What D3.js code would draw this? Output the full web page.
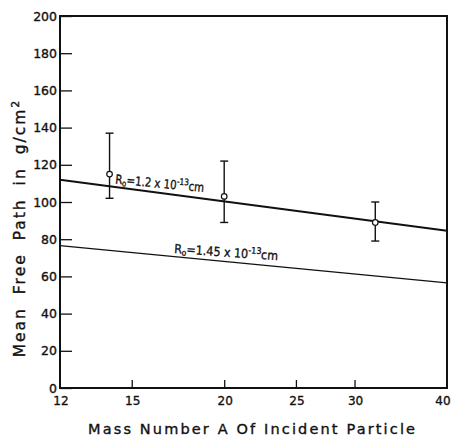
<!DOCTYPE html>
<html>
<head>
<meta charset="utf-8">
<script src="https://cdn.jsdelivr.net/npm/d3@7"></script>
<style>
  body { margin: 0; background: #fff; }
  svg text { font-family: "DejaVu Sans", sans-serif; fill: #111; stroke: #111; stroke-width: 0.35; }
</style>
</head>
<body>
<div id="chart"></div>
<script>
// measured points with error bars
const massNumbers = [14, 20, 32];
const meanPaths = [115, 103, 89];
const errLow = [102, 89, 79];
const errHigh = [137, 122, 100];

// calculated curves
const curveA = [12, 40];
const curveR12 = [112, 84.5];
const curveR145 = [76.5, 56.5];

const xTicks = [12, 15, 20, 25, 30, 40];
const yTicks = [0, 20, 40, 60, 80, 100, 120, 140, 160, 180, 200];

const margin = { top: 16, right: 6, bottom: 49, left: 60 },
      width = 453 - margin.left - margin.right,
      height = 437 - margin.top - margin.bottom;

const svg = d3.select("#chart")
  .append("svg")
    .attr("width", 453)
    .attr("height", 437)
  .append("g")
    .attr("transform", `translate(${margin.left},${margin.top})`);

const x = d3.scaleLog()
  .domain([12, 40])
  .range([0, width]);

const y = d3.scaleLinear()
  .domain([0, 200])
  .range([height, 0]);

// frame
svg.append("rect")
  .attr("width", width)
  .attr("height", height)
  .attr("fill", "none")
  .attr("stroke", "#111")
  .attr("stroke-width", 2);

// ticks point inward
const yAxis = svg.append("g")
  .call(d3.axisRight(y).tickValues(yTicks).tickSize(12).tickFormat(""));
yAxis.select(".domain").remove();
yAxis.selectAll("line").attr("stroke", "#111").attr("stroke-width", 1.3);

svg.selectAll(".ylab")
  .data(yTicks)
  .enter().append("text")
    .attr("class", "ylab")
    .attr("x", -3)
    .attr("y", d => y(d) + 4.5)
    .attr("text-anchor", "end")
    .attr("font-size", 12.5)
    .text(d => d);

const xAxis = svg.append("g")
  .attr("transform", `translate(0,${height})`)
  .call(d3.axisTop(x).tickValues(xTicks.slice(1, -1)).tickSize(8).tickFormat(""));
xAxis.select(".domain").remove();
xAxis.selectAll("line").attr("stroke", "#111").attr("stroke-width", 1.3);

svg.selectAll(".xlab")
  .data(xTicks)
  .enter().append("text")
    .attr("class", "xlab")
    .attr("x", d => x(d) + (d === 40 ? -4 : 1))
    .attr("y", height + 17)
    .attr("text-anchor", "middle")
    .attr("font-size", 12)
    .text(d => d);

// theory lines
const line = d3.line()
  .x(d => x(d[0]))
  .y(d => y(d[1]));

svg.append("path")
  .datum(d3.zip(curveA, curveR12))
  .attr("fill", "none")
  .attr("stroke", "#111")
  .attr("stroke-width", 2)
  .attr("d", line);

svg.append("path")
  .datum(d3.zip(curveA, curveR145))
  .attr("fill", "none")
  .attr("stroke", "#111")
  .attr("stroke-width", 1.2)
  .attr("d", line);

// error bars
const pts = d3.zip(massNumbers, meanPaths, errLow, errHigh);
const eb = svg.selectAll(".eb")
  .data(pts)
  .enter().append("g")
    .attr("class", "eb");

eb.append("line")
  .attr("x1", d => x(d[0])).attr("x2", d => x(d[0]))
  .attr("y1", d => y(d[2])).attr("y2", d => y(d[3]))
  .attr("stroke", "#111").attr("stroke-width", 1.4);

eb.selectAll(".cap")
  .data(d => [[d[0], d[2]], [d[0], d[3]]])
  .enter().append("line")
    .attr("x1", d => x(d[0]) - 4).attr("x2", d => x(d[0]) + 4)
    .attr("y1", d => y(d[1])).attr("y2", d => y(d[1]))
    .attr("stroke", "#111").attr("stroke-width", 1.4);

eb.append("circle")
  .attr("cx", d => x(d[0]))
  .attr("cy", d => y(d[1]))
  .attr("r", 2.8)
  .attr("fill", "#fff")
  .attr("stroke", "#111")
  .attr("stroke-width", 1.2);

// curve labels
function curveLabel(px, py, angle, val, len) {
  const t = svg.append("text")
    .attr("transform", `translate(${px},${py}) rotate(${angle})`)
    .attr("font-size", 12.5)
    .attr("textLength", len)
    .attr("lengthAdjust", "spacingAndGlyphs");
  t.append("tspan").text("R");
  t.append("tspan").attr("font-size", 8.5).attr("dy", 2).text("o");
  t.append("tspan").attr("dy", -2).text("=" + val + " x 10");
  t.append("tspan").attr("font-size", 9).attr("dy", -5).text("-13");
  t.append("tspan").attr("dy", 5).text("cm");
}
curveLabel(115 - margin.left, 183.5 - margin.top, 5.5, "1.2", 89);
curveLabel(174 - margin.left, 253 - margin.top, 4, "1.45", 104);

// axis titles
svg.append("text")
  .attr("x", (88 + 415) / 2 - margin.left)
  .attr("y", 434 - margin.top)
  .attr("text-anchor", "middle")
  .attr("font-size", 14.5)
  .attr("textLength", 327)
  .attr("lengthAdjust", "spacing")
  .text("Mass Number A Of Incident Particle");

const yt = svg.append("text")
  .attr("transform", `translate(${25 - margin.left},${228 - margin.top}) rotate(-90)`)
  .attr("text-anchor", "middle")
  .attr("font-size", 15.5)
  .attr("letter-spacing", 2)
  .attr("word-spacing", 6);
yt.append("tspan").text("Mean Free Path in g/cm");
yt.append("tspan").attr("font-size", 11).attr("dy", -6).text("2");
</script>
</body>
</html>
